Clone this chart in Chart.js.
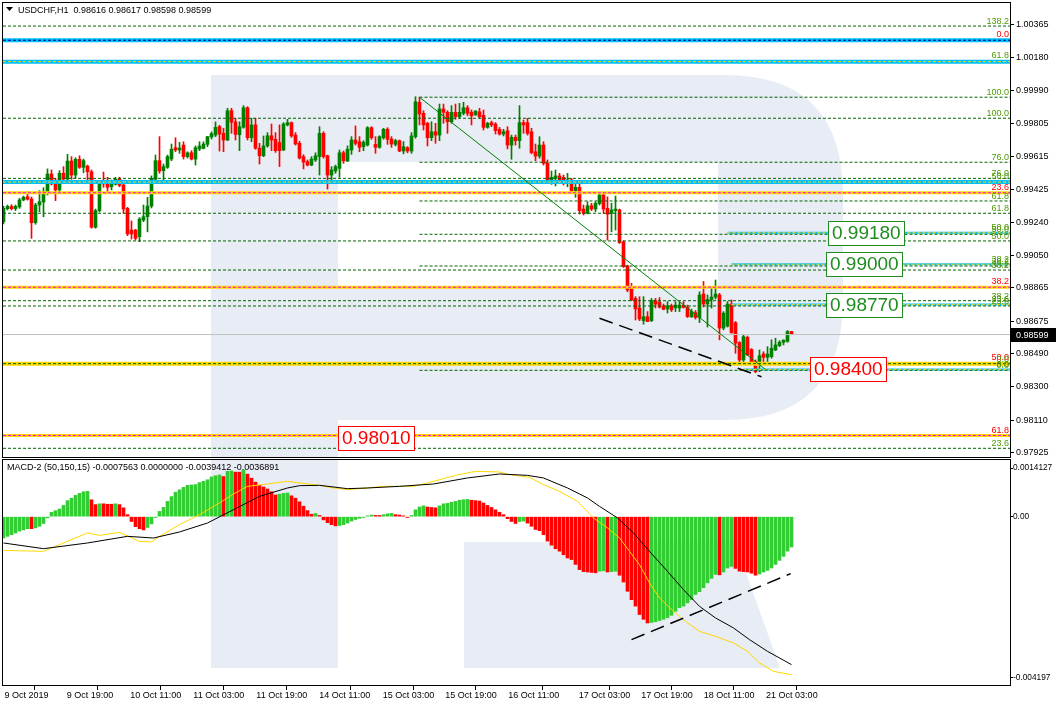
<!DOCTYPE html>
<html><head><meta charset="utf-8">
<script src="https://cdn.jsdelivr.net/npm/chart.js@4.4.1/dist/chart.umd.min.js"></script>
<style>
html,body{margin:0;padding:0;background:#fff;}
body{width:1056px;height:706px;position:relative;overflow:hidden;}
.pane{position:absolute;left:0;width:1056px;}
</style></head><body>
<div class="pane" style="top:0;height:458px"><canvas id="main"></canvas></div>
<div class="pane" style="top:458px;height:248px"><canvas id="macd"></canvas></div>
<script>
// ---------------- DATA ----------------
const symbol = 'USDCHF,H1';
const opens = [0.99243,0.99317,0.99330,0.99317,0.99327,0.99367,0.99385,0.99372,0.99237,0.99338,
0.99355,0.99414,0.99515,0.99458,0.99424,0.99519,0.99486,0.99589,0.99509,0.99599,
0.99553,0.99560,0.99528,0.99211,0.99306,0.99477,0.99467,0.99442,0.99456,0.99485,
0.99452,0.99319,0.99195,0.99195,0.99157,0.99252,0.99271,0.99332,0.99485,0.99591,
0.99534,0.99553,0.99600,0.99665,0.99652,0.99680,0.99614,0.99636,0.99600,0.99658,
0.99661,0.99684,0.99726,0.99737,0.99785,0.99747,0.99709,0.99876,0.99812,0.99739,
0.99782,0.99893,0.99722,0.99795,0.99662,0.99619,0.99675,0.99733,0.99713,0.99694,
0.99652,0.99795,0.99808,0.99737,0.99690,0.99614,0.99586,0.99566,0.99595,0.99614,
0.99747,0.99619,0.99509,0.99532,0.99547,0.99636,0.99589,0.99652,0.99709,0.99699,
0.99671,0.99680,0.99779,0.99684,0.99667,0.99722,0.99770,0.99715,0.99684,0.99705,
0.99646,0.99665,0.99646,0.99728,0.99924,0.99861,0.99804,0.99722,0.99756,0.99737,
0.99886,0.99867,0.99813,0.99867,0.99842,0.99861,0.99893,0.99867,0.99852,0.99870,
0.99850,0.99781,0.99808,0.99800,0.99770,0.99743,0.99762,0.99680,0.99724,0.99705,
0.99808,0.99808,0.99756,0.99642,0.99617,0.99680,0.99578,0.99477,0.99490,0.99504,
0.99496,0.99467,0.99481,0.99420,0.99439,0.99315,0.99291,0.99334,0.99315,0.99346,
0.99395,0.99319,0.99291,0.99306,0.99310,0.99128,0.98990,0.98862,0.98805,0.98750,
0.98678,0.98701,0.98678,0.98792,0.98784,0.98762,0.98745,0.98762,0.98752,0.98750,
0.98765,0.98756,0.98701,0.98724,0.98696,0.98830,0.98773,0.98799,0.98813,0.98825,
0.98636,0.98647,0.98773,0.98667,0.98553,0.98454,0.98583,0.98514,0.98444,0.98435,
0.98488,0.98469,0.98473,0.98511,0.98536,0.98555,0.98560,0.98616];
const highs = [0.99332,0.99338,0.99340,0.99338,0.99376,0.99389,0.99414,0.99384,0.99348,0.99420,
0.99437,0.99544,0.99538,0.99490,0.99534,0.99557,0.99627,0.99614,0.99608,0.99619,
0.99600,0.99566,0.99538,0.99315,0.99477,0.99526,0.99496,0.99481,0.99496,0.99496,
0.99462,0.99325,0.99247,0.99199,0.99266,0.99338,0.99382,0.99504,0.99623,0.99728,
0.99572,0.99623,0.99686,0.99722,0.99696,0.99699,0.99642,0.99648,0.99675,0.99699,
0.99699,0.99730,0.99755,0.99812,0.99793,0.99776,0.99890,0.99890,0.99833,0.99813,
0.99905,0.99899,0.99833,0.99833,0.99690,0.99732,0.99751,0.99800,0.99751,0.99795,
0.99808,0.99827,0.99812,0.99751,0.99702,0.99625,0.99595,0.99614,0.99636,0.99785,
0.99756,0.99623,0.99557,0.99566,0.99652,0.99646,0.99675,0.99728,0.99789,0.99728,
0.99705,0.99785,0.99785,0.99728,0.99733,0.99776,0.99779,0.99728,0.99713,0.99709,
0.99700,0.99671,0.99751,0.99956,0.99953,0.99876,0.99810,0.99813,0.99804,0.99914,
0.99914,0.99876,0.99905,0.99914,0.99918,0.99924,0.99905,0.99880,0.99876,0.99890,
0.99880,0.99810,0.99817,0.99808,0.99781,0.99770,0.99785,0.99737,0.99737,0.99905,
0.99823,0.99833,0.99776,0.99686,0.99728,0.99699,0.99595,0.99532,0.99538,0.99519,
0.99509,0.99519,0.99490,0.99471,0.99458,0.99338,0.99357,0.99348,0.99357,0.99404,
0.99404,0.99385,0.99348,0.99389,0.99315,0.99134,0.98995,0.98891,0.98815,0.98815,
0.98815,0.98730,0.98805,0.98805,0.98810,0.98773,0.98787,0.98773,0.98787,0.98784,
0.98787,0.98767,0.98744,0.98736,0.98843,0.98902,0.98825,0.98873,0.98910,0.98834,
0.98730,0.98787,0.98796,0.98673,0.98559,0.98596,0.98590,0.98519,0.98454,0.98511,
0.98501,0.98530,0.98569,0.98578,0.98564,0.98569,0.98622,0.98617];
const lows = [0.99230,0.99310,0.99310,0.99306,0.99319,0.99362,0.99366,0.99148,0.99228,0.99300,
0.99271,0.99395,0.99452,0.99363,0.99414,0.99481,0.99481,0.99485,0.99490,0.99547,
0.99522,0.99477,0.99206,0.99206,0.99298,0.99439,0.99414,0.99424,0.99452,0.99442,
0.99291,0.99163,0.99144,0.99138,0.99129,0.99243,0.99185,0.99321,0.99477,0.99519,
0.99481,0.99547,0.99591,0.99642,0.99633,0.99600,0.99606,0.99595,0.99566,0.99648,
0.99658,0.99671,0.99715,0.99728,0.99646,0.99642,0.99705,0.99747,0.99709,0.99648,
0.99776,0.99709,0.99699,0.99656,0.99572,0.99614,0.99668,0.99648,0.99638,0.99557,
0.99648,0.99789,0.99724,0.99680,0.99600,0.99544,0.99561,0.99562,0.99586,0.99509,
0.99605,0.99429,0.99466,0.99519,0.99496,0.99576,0.99586,0.99627,0.99680,0.99642,
0.99648,0.99675,0.99713,0.99633,0.99662,0.99713,0.99684,0.99667,0.99675,0.99642,
0.99630,0.99636,0.99633,0.99719,0.99795,0.99766,0.99675,0.99705,0.99690,0.99705,
0.99804,0.99747,0.99804,0.99827,0.99833,0.99852,0.99847,0.99795,0.99850,0.99833,
0.99766,0.99776,0.99785,0.99743,0.99737,0.99732,0.99658,0.99599,0.99680,0.99662,
0.99747,0.99737,0.99630,0.99591,0.99605,0.99566,0.99471,0.99456,0.99447,0.99466,
0.99452,0.99442,0.99414,0.99382,0.99287,0.99281,0.99287,0.99306,0.99300,0.99338,
0.99291,0.99138,0.99185,0.99195,0.99119,0.98982,0.98843,0.98792,0.98682,0.98678,
0.98658,0.98673,0.98673,0.98750,0.98750,0.98740,0.98722,0.98730,0.98730,0.98730,
0.98750,0.98696,0.98696,0.98687,0.98667,0.98756,0.98642,0.98750,0.98802,0.98569,
0.98626,0.98642,0.98606,0.98492,0.98444,0.98444,0.98479,0.98431,0.98381,0.98387,
0.98444,0.98435,0.98464,0.98507,0.98530,0.98540,0.98555,0.98598];
const closes = [0.99319,0.99330,0.99317,0.99330,0.99367,0.99382,0.99371,0.99237,0.99338,0.99357,
0.99414,0.99515,0.99458,0.99424,0.99519,0.99486,0.99589,0.99509,0.99599,0.99553,
0.99591,0.99528,0.99211,0.99306,0.99471,0.99458,0.99439,0.99456,0.99486,0.99450,
0.99315,0.99173,0.99173,0.99148,0.99258,0.99271,0.99332,0.99490,0.99591,0.99532,
0.99557,0.99614,0.99656,0.99652,0.99663,0.99614,0.99636,0.99600,0.99665,0.99675,
0.99686,0.99728,0.99745,0.99781,0.99743,0.99709,0.99876,0.99810,0.99741,0.99785,
0.99893,0.99722,0.99795,0.99662,0.99619,0.99675,0.99733,0.99709,0.99648,0.99648,
0.99800,0.99808,0.99732,0.99686,0.99606,0.99583,0.99566,0.99600,0.99619,0.99747,
0.99614,0.99509,0.99538,0.99557,0.99636,0.99591,0.99656,0.99709,0.99690,0.99667,
0.99696,0.99779,0.99722,0.99667,0.99728,0.99770,0.99713,0.99686,0.99705,0.99646,
0.99671,0.99646,0.99732,0.99927,0.99857,0.99795,0.99722,0.99756,0.99737,0.99886,
0.99867,0.99813,0.99867,0.99842,0.99867,0.99893,0.99861,0.99847,0.99874,0.99842,
0.99781,0.99804,0.99795,0.99762,0.99743,0.99756,0.99680,0.99724,0.99705,0.99808,
0.99795,0.99747,0.99636,0.99617,0.99680,0.99576,0.99477,0.99496,0.99504,0.99476,
0.99476,0.99481,0.99420,0.99439,0.99306,0.99291,0.99334,0.99315,0.99348,0.99395,
0.99315,0.99286,0.99310,0.99315,0.99123,0.98986,0.98853,0.98796,0.98745,0.98688,
0.98701,0.98673,0.98792,0.98773,0.98756,0.98743,0.98762,0.98740,0.98767,0.98767,
0.98754,0.98701,0.98730,0.98696,0.98825,0.98773,0.98799,0.98813,0.98830,0.98636,
0.98721,0.98773,0.98610,0.98550,0.98454,0.98587,0.98482,0.98435,0.98387,0.98478,
0.98469,0.98488,0.98521,0.98540,0.98555,0.98567,0.98616,0.98599];

const histValues = [-0.00053,-0.00049,-0.00045,-0.00041,-0.00036,-0.00033,-0.00030,-0.00030,-0.00028,-0.00024,
-0.00017,-0.00003,0.00011,0.00015,0.00019,0.00028,0.00040,0.00046,0.00053,0.00058,
0.00062,0.00063,0.00042,0.00030,0.00032,0.00032,0.00031,0.00031,0.00032,0.00030,
0.00022,0.00005,-0.00012,-0.00025,-0.00030,-0.00033,-0.00027,-0.00018,-0.00002,0.00013,
0.00023,0.00038,0.00050,0.00061,0.00067,0.00073,0.00078,0.00079,0.00080,0.00085,
0.00088,0.00092,0.00099,0.00102,0.00104,0.00100,0.00113,0.00114,0.00111,0.00111,
0.00116,0.00106,0.00096,0.00086,0.00078,0.00074,0.00069,0.00062,0.00054,0.00056,
0.00058,0.00059,0.00052,0.00046,0.00037,0.00026,0.00015,0.00006,0.00008,0.00003,
-0.00008,-0.00015,-0.00020,-0.00023,-0.00022,-0.00020,-0.00016,-0.00011,-0.00007,-0.00004,
-0.00002,0.00002,0.00004,0.00003,0.00003,0.00005,0.00007,0.00008,0.00005,0.00004,
0.00002,-0.00002,0.00003,0.00017,0.00024,0.00027,0.00024,0.00023,0.00022,0.00027,
0.00032,0.00033,0.00036,0.00038,0.00041,0.00042,0.00043,0.00041,0.00040,0.00039,
0.00034,0.00028,0.00023,0.00017,0.00011,0.00005,-0.00005,-0.00012,-0.00017,-0.00012,
-0.00011,-0.00016,-0.00024,-0.00032,-0.00035,-0.00045,-0.00061,-0.00071,-0.00080,-0.00086,
-0.00095,-0.00103,-0.00107,-0.00119,-0.00132,-0.00137,-0.00138,-0.00139,-0.00140,-0.00136,
-0.00135,-0.00138,-0.00137,-0.00136,-0.00146,-0.00163,-0.00186,-0.00207,-0.00223,-0.00244,
-0.00256,-0.00265,-0.00264,-0.00262,-0.00259,-0.00256,-0.00252,-0.00246,-0.00236,-0.00227,
-0.00223,-0.00215,-0.00207,-0.00194,-0.00187,-0.00177,-0.00165,-0.00154,-0.00144,-0.00145,
-0.00138,-0.00128,-0.00124,-0.00129,-0.00136,-0.00137,-0.00138,-0.00141,-0.00146,-0.00143,
-0.00138,-0.00134,-0.00128,-0.00119,-0.00109,-0.00099,-0.00086,-0.0007563];
// G = rising (green), R = falling (red), as coloured in the picture
const histColorCodes = ("GGGGGGGRGG"+"GGGGGGGGGG"+"GGRRGRRRGR"+"RRRRRRGGGG"+"GGGGGGGGGG"+
"GGGGGRGGRR"+"GRRRRRRRRG"+"GGRRRRRRGR"+"RRRRGGGGGG"+"GGGRRGGGRR"+"RRGGGGRRRG"+"GGGGGGGRRR"+
"RRRRRRRRRG"+"GRRRRRRRRR"+"RRRRRRRRRG"+"GRGGRRRRRR"+"RRGGGGGGGG"+"GGGGGGGGGR"+"GGGRRRRRRG"+"GGGGGGGG").split('');

// MACD main line (yellow) and signal line (black), read at sample bars
const macdBars = [0,10,13,21,24,29,34,37,39,44,49,54,57.5,61,66,71,74,79,82.5,86,91,95,102.5,107.5,113,118,124,126.5,131.5,135,139,143.5,147.5,151,154,156.5,159,161.5,164,167.5,171,174,178,182.5,186,189,192.5,197];
const macdValues = [-0.000840,-0.000865,-0.000740,-0.000406,-0.000466,-0.000391,-0.000616,-0.000631,-0.000491,-0.000199,0.000050,0.000342,0.000566,0.000756,0.000814,0.000881,0.000840,0.000781,0.000715,0.000673,0.000715,0.000756,0.000756,0.000881,0.001030,0.001130,0.001114,0.001047,0.000980,0.000798,0.000631,0.000382,-0.000032,-0.000282,-0.000531,-0.000865,-0.001197,-0.001653,-0.002027,-0.002361,-0.002650,-0.002859,-0.002984,-0.003149,-0.003358,-0.003647,-0.003857,-0.0039412];
const signalBars = [0,10,21,31,37.5,44,51,57.5,64,71,74,79,86,91,99,107.5,116,124,131,135,141,146,149,153.5,157.5,161.5,166,170,174,178,182.5,186.5,191,197];
const signalValues = [-0.000656,-0.000798,-0.000656,-0.000491,-0.000532,-0.000382,-0.000158,0.000175,0.000506,0.000715,0.000773,0.000781,0.000698,0.000715,0.000756,0.000814,0.000965,0.001064,0.001030,0.000965,0.000715,0.000466,0.000257,-0.000032,-0.000406,-0.000865,-0.001364,-0.001820,-0.002236,-0.002525,-0.002775,-0.003066,-0.003358,-0.0036891];
const macdParams = '(50,150,15)';

// axis ticks
const priceTicks = [1.00365,1.00180,0.99990,0.99805,0.99615,0.99425,0.99240,0.99050,0.98865,0.98675,0.98490,0.98300,0.98110,0.97925];
const macdTickValues = [0.00121,0,-0.00402];
const macdTickLabels = ['0.0014127','0.00','-0.004197'];
// positions (in bar units) where the picture puts its time labels
const timeTickBars = [0,15.55,31.45,47.2,62.95,78.7,94.55,110.2,125.95,143.55,159.2,174.8,190.4];
const timeTickLabels = ['9 Oct 2019','9 Oct 19:00','10 Oct 11:00','11 Oct 03:00','11 Oct 19:00','14 Oct 11:00','15 Oct 03:00','15 Oct 19:00','16 Oct 11:00','17 Oct 03:00','17 Oct 19:00','18 Oct 11:00','21 Oct 03:00'];

// horizontal levels: price, first bar (null = whole chart), kind, fib label, label tone
const levelPrices = [1.00359,1.00278,1.00156,0.99953,0.99833,0.99582,0.99490,0.99469,0.99408,0.99361,0.99291,0.99180,0.99171,0.99133,0.99000,0.98990,0.98967,0.98869,0.98792,0.98770,0.98762,0.98433,0.98433,0.98400,0.98395,0.98023,0.97950];
const levelFrom   = [null,null,null,104,null,104,null,null,null,104,null,181,104,null,182,104,null,null,null,182,null,null,null,185,104,null,null];
const levelKind   = ['dash','cyanDark','cyan','dash','dash','dash','dash','cyan','yellow','dash','dash','cyanThin','dash','dash','cyanThin','dash','dash','yellow','dash','cyanThin','dash','yellowWide','dash','cyanThin','dash','yellow','dash'];
const levelLabel  = ['138.2','0.0','61.8','100.0','100.0','76.0','76.0','50.0','23.6','61.8','61.8','50.0','50.0','50.0','38.2','38.2','38.2','38.2','38.2','23.6','23.6','50.0','0.0','0.0','0.0','61.8','23.6'];
const levelTone   = ['g','r','g','g','g','g','g','g','r','g','g','g','g','g','g','g','g','r','g','g','g','r','g','g','g','r','g'];

// target boxes
const targetValues = [0.99180,0.99000,0.98770,0.98400,0.98010];
const targetTone = ['g','g','g','r','r'];

// trend lines [bar, value]
const fibTrend = {bars:[104,190.5], values:[0.99953,0.98400]};
const supportTrend = {bars:[149,189.5], values:[0.98692,0.98358]};
const macdTrend = {bars:[157,196.8], values:[-0.003066,-0.001421]};

// ---------------- LAYOUT / STYLE ----------------
const FONT = '"Liberation Sans", Arial, sans-serif';
const X_MIN = -0.125, X_MAX = -0.125 + 1007/4;
const boxAnchorBar = [206,205.5,205.5,201.5,83.5];
const GREEN_C = '#008000', RED_C = '#FF0000';
const KIND = {
  dash:      [{c:'#006400', w:1, d:[3,2]}],
  cyan:      [{c:'#00BFFF', w:4, d:[]}, {c:'#FFD700', w:1, d:[3,2]}],
  cyanDark:  [{c:'#00BFFF', w:4, d:[]}, {c:'#000080', w:1, d:[3,2]}],
  cyanThin:  [{c:'#00BFFF', w:2, d:[]}, {c:'#FFD700', w:1, d:[3,2]}],
  yellow:    [{c:'#FFD700', w:3, d:[]}, {c:'#FF00FF', w:1, d:[3,2]}],
  yellowWide:[{c:'#FFD700', w:4, d:[]}]
};
const TONE = {g:'#4E9A06', r:'#FF0000'};

function R_path(ctx){
  ctx.beginPath();
  ctx.moveTo(211,75); ctx.lineTo(725,75);
  ctx.quadraticCurveTo(843,75,843,195);
  ctx.lineTo(843,300);
  ctx.quadraticCurveTo(843,420,725,420);
  ctx.lineTo(338,420); ctx.lineTo(338,668); ctx.lineTo(211,668); ctx.closePath();
  ctx.moveTo(338,162); ctx.lineTo(718,162); ctx.lineTo(718,287); ctx.lineTo(338,287); ctx.closePath();
  ctx.moveTo(464,542); ctx.lineTo(735,542); ctx.lineTo(780,668); ctx.lineTo(464,668); ctx.closePath();
}
function watermark(pageTop){
  return {id:'wm'+pageTop, beforeDraw(chart){
    const {ctx, chartArea:a} = chart;
    ctx.save();
    ctx.beginPath(); ctx.rect(a.left, a.top, a.right-a.left, a.bottom-a.top); ctx.clip();
    ctx.translate(0,-pageTop);
    ctx.fillStyle = '#E8ECF4';
    R_path(ctx); ctx.fill('evenodd');
    ctx.restore();
  }};
}
const frame = {id:'frame', afterDraw(chart){
  const {ctx, chartArea:a} = chart;
  ctx.save(); ctx.strokeStyle='#000'; ctx.lineWidth=1;
  ctx.strokeRect(a.left-0.5, a.top-0.5, a.right-a.left+1, a.bottom-a.top+1);
  ctx.restore();
}};

// ---------------- MAIN CHART ----------------
const N = closes.length;
const candleColor = closes.map((c,i)=> c >= opens[i] ? GREEN_C : RED_C);
const mainSets = [];
mainSets.push({type:'bar', data: closes.map((c,i)=>({x:i, y:[lows[i], highs[i]]})), backgroundColor:candleColor, barThickness:1, grouped:false, order:5});
mainSets.push({type:'bar', data: closes.map((c,i)=>({x:i, y:[opens[i], c]})), backgroundColor:candleColor, barThickness:3, minBarLength:1, grouped:false, order:4});
levelPrices.forEach((p,i)=>{
  const from = levelFrom[i] === null ? X_MIN : levelFrom[i];
  KIND[levelKind[i]].forEach((st)=>{
    mainSets.push({type:'line', data:[{x:from,y:p},{x:X_MAX,y:p}], borderColor:st.c, borderWidth:st.w, borderDash:st.d,
      pointRadius:0, order: (st.w>1?3:1)});
  });
});
mainSets.push({type:'line', data:[{x:X_MIN,y:closes[N-1]},{x:X_MAX,y:closes[N-1]}], borderColor:'#C0C0C0', borderWidth:1, pointRadius:0, order:2});
mainSets.push({type:'line', data:fibTrend.bars.map((b,i)=>({x:b,y:fibTrend.values[i]})), borderColor:'#008000', borderWidth:1, pointRadius:0, order:0});
mainSets.push({type:'line', data:supportTrend.bars.map((b,i)=>({x:b,y:supportTrend.values[i]})), borderColor:'#000', borderWidth:1.5, borderDash:[14,7], pointRadius:0, order:0});

const mainLabels = {id:'mainLabels', afterDatasetsDraw(chart){
  const {ctx, chartArea:a, scales:{x, y}} = chart;
  ctx.save();
  ctx.font = '9px '+FONT; ctx.textAlign='right'; ctx.textBaseline='alphabetic';
  levelPrices.forEach((p,i)=>{
    const py = y.getPixelForValue(p);
    const half = Math.max(...KIND[levelKind[i]].map(s=>s.w))/2;
    ctx.fillStyle = TONE[levelTone[i]];
    ctx.fillText(levelLabel[i], a.right-1, py - half - 1.5);
  });
  ctx.font = '19px '+FONT; ctx.textAlign='left'; ctx.textBaseline='middle';
  targetValues.forEach((v,i)=>{
    const bx = Math.round(x.getPixelForValue(boxAnchorBar[i]));
    const by = Math.round(y.getPixelForValue(v));
    const t = v.toFixed(5); const w = Math.round(ctx.measureText(t).width)+8;
    const col = targetTone[i]==='g' ? '#1E8C1E' : '#FF0000';
    ctx.fillStyle='#fff'; ctx.fillRect(bx, by-12, w, 25);
    ctx.strokeStyle=col; ctx.lineWidth=1; ctx.strokeRect(bx+0.5, by-11.5, w-1, 24);
    ctx.fillStyle=col; ctx.fillText(t, bx+4, by+1);
  });
  ctx.restore();
}, afterDraw(chart){
  const {ctx, chartArea:a, scales:{y}} = chart;
  ctx.save();
  const py = Math.round(y.getPixelForValue(closes[N-1]));
  ctx.fillStyle='#000'; ctx.fillRect(a.right+1, py-7, 46, 14);
  ctx.fillStyle='#fff'; ctx.font='9px '+FONT; ctx.textAlign='left'; ctx.textBaseline='middle';
  ctx.fillText(closes[N-1].toFixed(5), a.right+6, py+0.5);
  ctx.fillStyle='#000';
  ctx.beginPath(); ctx.moveTo(6,7); ctx.lineTo(13,7); ctx.lineTo(9.5,11); ctx.closePath(); ctx.fill();
  ctx.fillText(symbol+'  '+[opens[N-1],highs[N-1],lows[N-1],closes[N-1]].map(v=>v.toFixed(5)).join(' '), 18, 10.5);
  ctx.restore();
}};

new Chart(document.getElementById('main'), {
  type:'bar',
  data:{datasets: mainSets},
  options:{
    responsive:true, maintainAspectRatio:false, animation:false, devicePixelRatio:1,
    layout:{padding:{left:3, top:3, right:0, bottom:1}},
    plugins:{legend:{display:false}, tooltip:{enabled:false}},
    scales:{
      x:{type:'linear', min:X_MIN, max:X_MAX, display:false, offset:false},
      y:{position:'right', min:0.979004, max:1.004905, offset:false,
         grid:{drawOnChartArea:false, drawTicks:true, tickLength:4, color:'#000'},
         border:{display:false},
         ticks:{autoSkip:false, padding:2, color:'#000', font:{family:FONT, size:9}, callback:v=>Number(v).toFixed(5)},
         afterBuildTicks:s=>{ s.ticks = priceTicks.map(v=>({value:v})); },
         afterFit:s=>{ s.width = 46; s.paddingTop = 0; s.paddingBottom = 0; }}
    }
  },
  plugins:[watermark(0), mainLabels, frame]
});

// ---------------- MACD CHART ----------------
const macdSets = [
  {type:'bar', data: histValues.map((v,i)=>({x:i,y:v})), backgroundColor: histColorCodes.map(c=>c==='G'?'#32CD32':'#FF0000'), barThickness:3, grouped:false, order:4},
  {type:'line', data: macdBars.map((b,i)=>({x:b,y:macdValues[i]})), borderColor:'#FFD700', borderWidth:1, pointRadius:0, order:2},
  {type:'line', data: signalBars.map((b,i)=>({x:b,y:signalValues[i]})), borderColor:'#000', borderWidth:1, pointRadius:0, order:1},
  {type:'line', data: macdTrend.bars.map((b,i)=>({x:b,y:macdTrend.values[i]})), borderColor:'#000', borderWidth:1.5, borderDash:[14,7], pointRadius:0, order:0}
];
const macdTitle = {id:'macdTitle', afterDraw(chart){
  const {ctx} = chart;
  ctx.save(); ctx.fillStyle='#000'; ctx.font='9px '+FONT; ctx.textAlign='left'; ctx.textBaseline='middle';
  const vals = [histValues[N-1], 0, macdValues[macdValues.length-1], signalValues[signalValues.length-1]].map(v=>v.toFixed(7));
  ctx.fillText('MACD-2 '+macdParams+' '+vals.join(' '), 7, 9.5);
  ctx.restore();
}};
new Chart(document.getElementById('macd'), {
  type:'bar',
  data:{datasets: macdSets},
  options:{
    responsive:true, maintainAspectRatio:false, animation:false, devicePixelRatio:1,
    layout:{padding:{left:3, top:2, right:0, bottom:0}},
    plugins:{legend:{display:false}, tooltip:{enabled:false}},
    scales:{
      x:{type:'linear', position:'bottom', min:X_MIN, max:X_MAX, offset:false,
         grid:{drawOnChartArea:false, drawTicks:true, tickLength:5, color:'#000'},
         border:{display:false},
         ticks:{autoSkip:false, maxRotation:0, align:'start', labelOffset:1, padding:0, color:'#000', font:{family:FONT, size:9},
                callback:(v,i)=>timeTickLabels[i]},
         afterBuildTicks:s=>{ s.ticks = timeTickBars.map(v=>({value:v})); },
         afterFit:s=>{ s.height = 21; s.paddingLeft = 0; s.paddingRight = 0; }},
      y:{position:'right', min:-0.004197, max:0.0014127, offset:false,
         grid:{drawOnChartArea:false, drawTicks:true, tickLength:3, color:'#000'},
         border:{display:false},
         ticks:{autoSkip:false, padding:0, color:'#000', font:{family:FONT, size:8.3}, callback:(v,i)=>macdTickLabels[i]},
         afterBuildTicks:s=>{ s.ticks = macdTickValues.map(v=>({value:v})); },
         afterFit:s=>{ s.width = 46; s.paddingTop = 0; s.paddingBottom = 0; }}
    }
  },
  plugins:[watermark(458), macdTitle, frame]
});
</script>
</body></html>
